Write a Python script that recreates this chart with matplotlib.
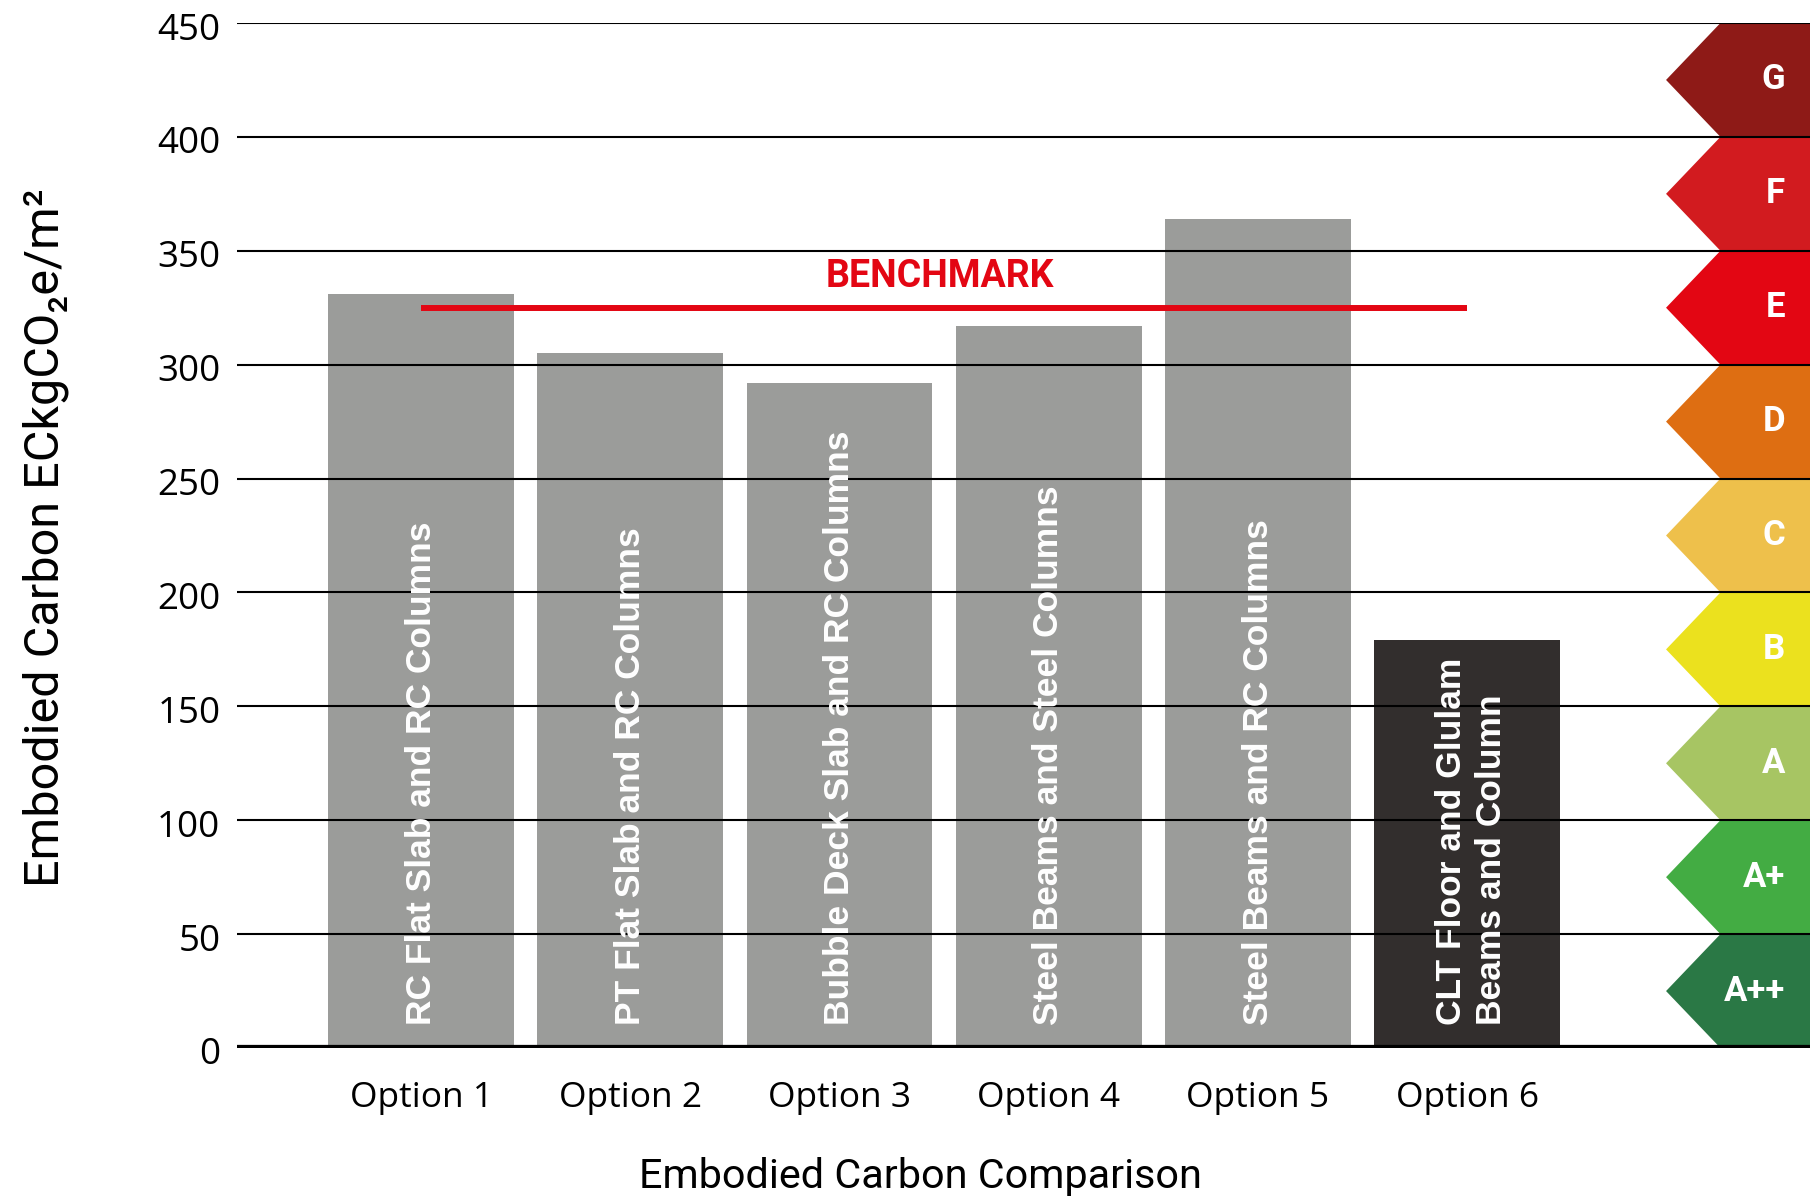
import matplotlib
matplotlib.use("Agg")
import matplotlib.pyplot as plt
from matplotlib.patches import Polygon
from matplotlib.transforms import ScaledTranslation

plt.rcParams['font.family'] = ['Roboto', 'DejaVu Sans']

options = ["Option 1", "Option 2", "Option 3", "Option 4", "Option 5", "Option 6"]
values = [331, 305, 292, 317, 364, 179]
bar_labels = ["RC Flat Slab and RC Columns", "PT Flat Slab and RC Columns",
              "Bubble Deck Slab and RC Columns", "Steel Beams and Steel Columns",
              "Steel Beams and RC Columns", "CLT Floor and Glulam\nBeams and Column"]
bar_colors = ["#9b9c9a"] * 5 + ["#322e2d"]
benchmark = 325
ratings = ["A++", "A+", "A", "B", "C", "D", "E", "F", "G"]
rating_colors = ["#2a7845", "#43ac43", "#a7c563", "#ebe11e", "#eec04b",
                 "#de6e12", "#e30613", "#d21b1f", "#8e1a17"]
yticks = [0, 50, 100, 150, 200, 250, 300, 350, 400, 450]

fig = plt.figure(figsize=(18.10, 12.03), dpi=100)
ax = fig.add_axes([237/1810, 1 - 1048/1203, 1 - 237/1810, (1048 - 23)/1203])

x = list(range(len(options)))
ax.bar(x, values, width=0.888, color=bar_colors, zorder=2)

for xi, lab in zip(x, bar_labels):
    ax.text(xi + (0.02 if "\n" in lab else 0), 10, lab, rotation=90, rotation_mode='anchor',
            ha='left', va='center', color='white', fontsize=25.5, fontweight='bold',
            multialignment='left', family=['Liberation Sans', 'DejaVu Sans'],
            linespacing=1.3, zorder=4)

# benchmark
ax.plot([0, 5], [benchmark, benchmark], color='#e30613', lw=4.3, solid_capstyle='butt', zorder=5)
ax.text(2.48, benchmark + 5.5, "BENCHMARK", color='#e30613', fontsize=27, fontweight='bold',
        ha='center', va='bottom', zorder=5)

# rating arrows
tip_x, body_x, right_x = 5.95, 6.21, 6.70
for i, (r, c) in enumerate(zip(ratings, rating_colors)):
    lo, hi = i * 50, (i + 1) * 50
    poly = Polygon([(tip_x, (lo + hi) / 2), (body_x, hi), (right_x, hi), (right_x, lo), (body_x, lo)],
                   closed=True, facecolor=c, edgecolor='none', zorder=1)
    ax.add_patch(poly)
    ax.text(6.52, (lo + hi) / 2, r, color='white', fontsize=25, fontweight='bold',
            ha='right', va='center', zorder=4)

# gridlines
for t in yticks[1:]:
    ax.axhline(t, color='black', lw=1.5, zorder=3)
ax.axhline(0, color='black', lw=4.5, zorder=3)

ax.set_xlim(-0.88, 6.638)
ax.set_ylim(0, 450)
ax.set_yticks(yticks)
ax.set_yticklabels([str(t) for t in yticks], fontsize=26.5, family=['Open Sans', 'DejaVu Sans'])
ax.set_xticks(x)
ax.set_xticklabels(options, fontsize=25.5, family=['Open Sans', 'DejaVu Sans'])
ax.tick_params(axis='y', length=0, pad=12)
ax.tick_params(axis='x', length=0, pad=24)
off = ScaledTranslation(0, -3/100, fig.dpi_scale_trans)
for lab in ax.get_yticklabels():
    lab.set_transform(lab.get_transform() + off)
for s in ax.spines.values():
    s.set_visible(False)

fig.text(46/1810, 1 - 538/1203, "Embodied Carbon ECkgCO\u2082e/m\u00b2", rotation=90,
         ha='center', va='center', fontsize=35)
fig.text(920/1810, 1 - 1177/1203, "Embodied Carbon Comparison", ha='center', va='center',
         fontsize=29.8)

fig.savefig("out.png", dpi=100)
